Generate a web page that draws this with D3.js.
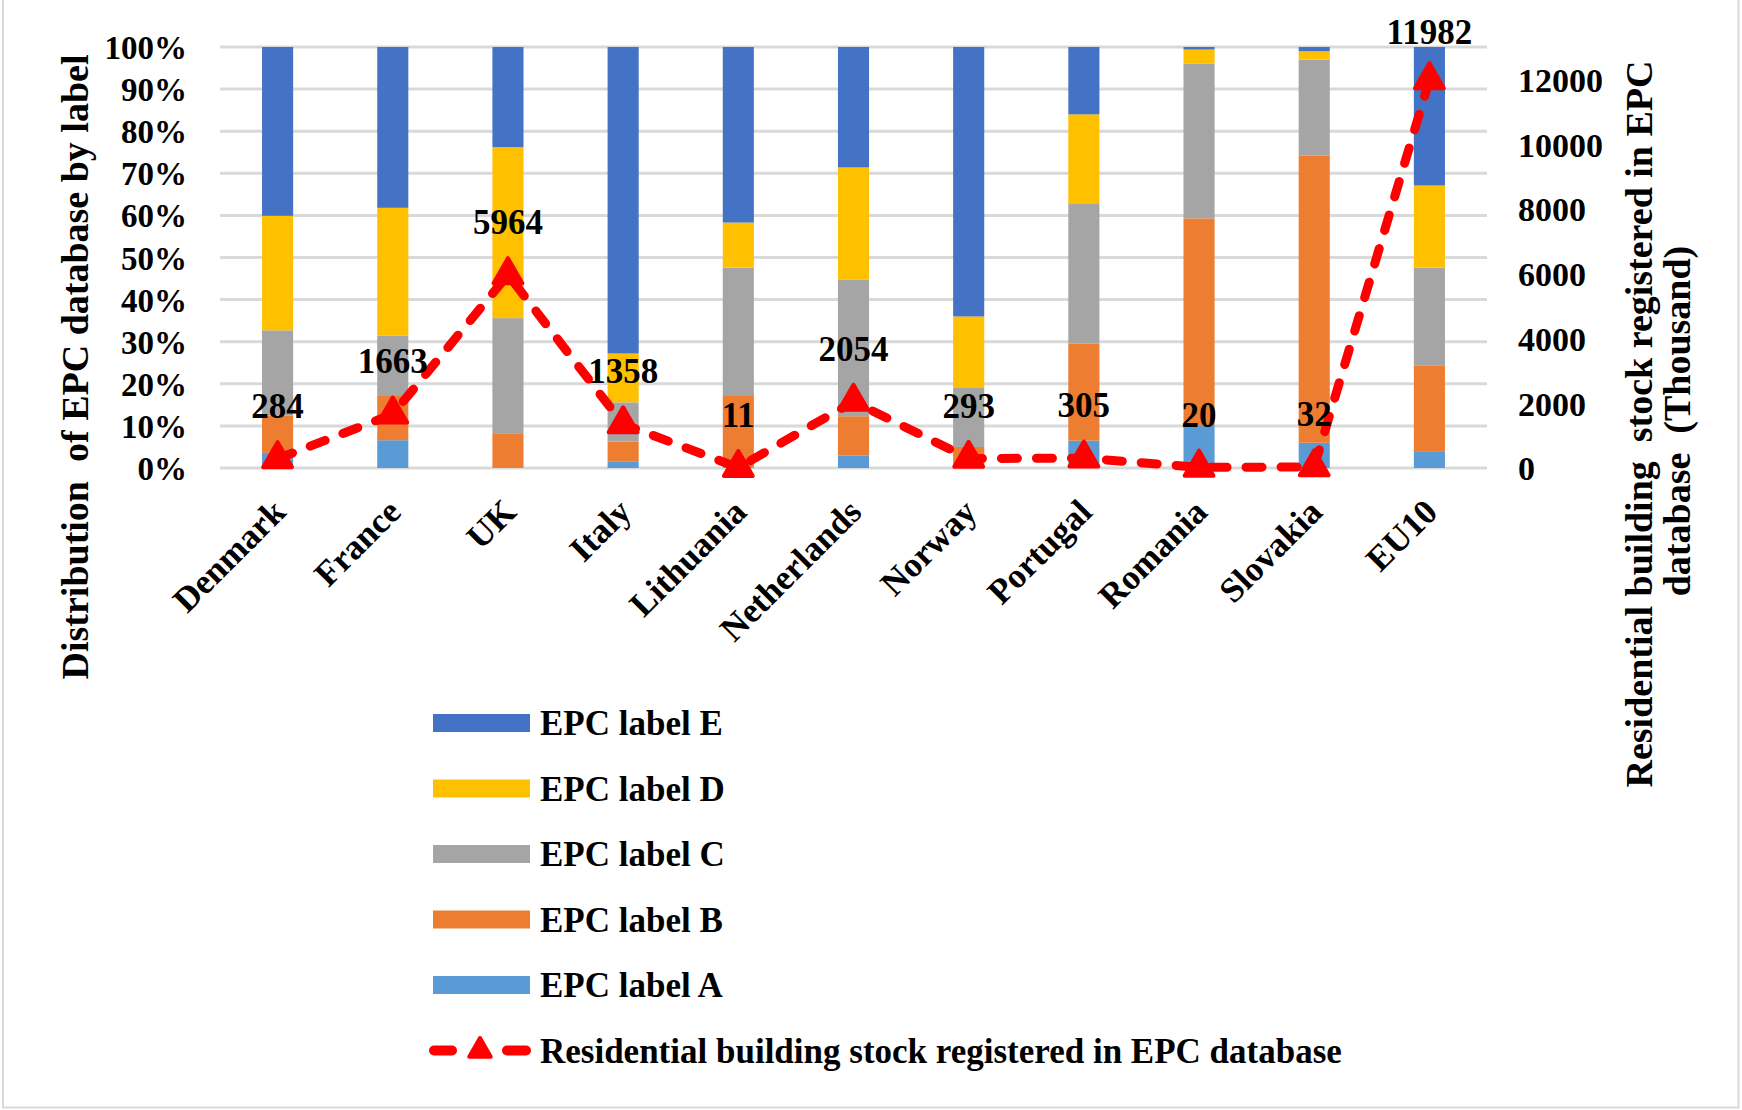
<!DOCTYPE html>
<html>
<head>
<meta charset="utf-8">
<script src="https://cdn.jsdelivr.net/npm/d3@7"></script>
<style>
  html, body { margin: 0; padding: 0; background: #ffffff; }
  svg { display: block; }
  text { font-family: "Liberation Serif", "Times New Roman", serif; font-weight: bold; fill: #000; }
</style>
</head>
<body>
<svg id="chart" width="1742" height="1110"></svg>
<script>
// Countries shown on the x axis
const categories = ["Denmark", "France", "UK", "Italy", "Lithuania", "Netherlands",
                    "Norway", "Portugal", "Romania", "Slovakia", "EU10"];

// Share of EPC certificates per label (percent of each country's database)
const labelA = [3.6, 6.6, 0.0, 1.6, 0.0, 3.0, 0.5, 6.5, 10.2, 6.0, 4.0];
const labelB = [8.8, 10.7, 8.1, 4.7, 17.1, 9.3, 4.5, 23.1, 49.1, 68.2, 20.4];
const labelC = [20.3, 14.1, 27.5, 9.3, 30.5, 32.4, 14.0, 33.1, 36.7, 22.8, 23.2];
const labelD = [27.2, 30.4, 40.6, 11.6, 10.7, 26.7, 17.0, 21.3, 3.4, 2.0, 19.5];
const labelE = [40.1, 38.2, 23.8, 72.8, 41.7, 28.6, 64.0, 16.0, 0.6, 1.0, 32.9];

// Residential buildings registered in the EPC database (thousand)
const stock = [284, 1663, 5964, 1358, 11, 2054, 293, 305, 20, 32, 11982];

// Axis ticks
const percentTicks = [0, 10, 20, 30, 40, 50, 60, 70, 80, 90, 100];
const stockTicks = [0, 2000, 4000, 6000, 8000, 10000, 12000];

const seriesKeys = ["A", "B", "C", "D", "E"];
const seriesNames = {
  A: "EPC label A", B: "EPC label B", C: "EPC label C", D: "EPC label D", E: "EPC label E"
};
const colors = { A: "#5B9BD5", B: "#ED7D31", C: "#A5A5A5", D: "#FFC000", E: "#4472C4" };
const lineColor = "#FF0000";

const rows = categories.map((c, i) => ({
  country: c, A: labelA[i], B: labelB[i], C: labelC[i], D: labelD[i], E: labelE[i], stock: stock[i]
}));

const svg = d3.select("#chart");
const plot = { left: 220, right: 1487, top: 47, bottom: 468 };

const x = d3.scaleBand()
  .domain(categories)
  .range([plot.left, plot.right])
  .paddingInner(0.73)
  .paddingOuter(0.365);

const yPct = d3.scaleLinear().domain([0, 100]).range([plot.bottom, plot.top]);
const yStock = d3.scaleLinear().domain([0, 13000]).range([plot.bottom, plot.top]);

// Frame around the figure
svg.append("path")
  .attr("d", "M3,-5 V1107.5 H1738.5 V-5")
  .attr("fill", "none")
  .attr("stroke", "#d9d9d9")
  .attr("stroke-width", 2);

// Horizontal gridlines
svg.append("g")
  .selectAll("line")
  .data(percentTicks)
  .join("line")
  .attr("x1", plot.left)
  .attr("x2", plot.right)
  .attr("y1", d => yPct(d))
  .attr("y2", d => yPct(d))
  .attr("stroke", "#d9d9d9")
  .attr("stroke-width", 3);

// Stacked bars
const stacked = d3.stack().keys(seriesKeys)(rows);
svg.append("g")
  .selectAll("g")
  .data(stacked)
  .join("g")
  .attr("fill", s => colors[s.key])
  .selectAll("rect")
  .data(s => s)
  .join("rect")
  .attr("x", d => x(d.data.country))
  .attr("width", x.bandwidth())
  .attr("y", d => yPct(d[1]))
  .attr("height", d => yPct(d[0]) - yPct(d[1]));

// Left axis (percent)
const leftAxis = d3.axisLeft(yPct)
  .tickValues(percentTicks)
  .tickFormat(d => d + "%")
  .tickSize(0)
  .tickPadding(0);
const gl = svg.append("g").attr("transform", `translate(187,0)`).call(leftAxis);
gl.select(".domain").remove();
gl.selectAll("text").style("font-size", "33px").attr("dy", "0.35em")
  .style("font-family", "'Liberation Serif', serif").style("font-weight", "bold");

// Right axis (thousand buildings)
const rightAxis = d3.axisRight(yStock)
  .tickValues(stockTicks)
  .tickFormat(d3.format("d"))
  .tickSize(0)
  .tickPadding(0);
const gr = svg.append("g").attr("transform", `translate(1518,0)`).call(rightAxis);
gr.select(".domain").remove();
gr.selectAll("text").style("font-size", "34px").attr("dy", "0.35em")
  .style("font-family", "'Liberation Serif', serif").style("font-weight", "bold");

// Category labels, rotated
const xAxis = d3.axisBottom(x).tickSize(0).tickPadding(0);
const gx = svg.append("g").attr("transform", `translate(0,${plot.bottom})`).call(xAxis);
gx.select(".domain").remove();
gx.selectAll("text")
  .style("font-size", "35px")
  .style("font-family", "'Liberation Serif', serif").style("font-weight", "bold")
  .attr("text-anchor", "end")
  .attr("dy", null)
  .attr("y", null)
  .attr("transform", "translate(10,46) rotate(-45)");

// Stock line (dashed) with triangle markers
const lineGen = d3.line()
  .x(d => x(d.country) + x.bandwidth() / 2)
  .y(d => yStock(d.stock));
svg.append("path")
  .datum(rows)
  .attr("d", lineGen)
  .attr("fill", "none")
  .attr("stroke", lineColor)
  .attr("stroke-width", 9)
  .attr("stroke-linecap", "round")
  .attr("stroke-linejoin", "round")
  .attr("stroke-dasharray", "16 19");

const tri = d3.symbol().type(d3.symbolTriangle).size(360);
svg.append("g")
  .selectAll("path")
  .data(rows)
  .join("path")
  .attr("d", tri)
  .attr("transform", d => `translate(${x(d.country) + x.bandwidth() / 2},${yStock(d.stock)})`)
  .attr("fill", lineColor)
  .attr("stroke", lineColor)
  .attr("stroke-width", 4)
  .attr("stroke-linejoin", "round");

// Value labels above the markers
svg.append("g")
  .selectAll("text")
  .data(rows)
  .join("text")
  .attr("x", d => x(d.country) + x.bandwidth() / 2)
  .attr("y", d => Math.max(32, yStock(d.stock) - 53))
  .attr("dy", "0.35em")
  .attr("text-anchor", "middle")
  .style("font-size", "35px")
  .text(d => d.stock);

// Axis titles
svg.append("text")
  .attr("transform", "translate(88,367) rotate(-90)")
  .attr("text-anchor", "middle")
  .style("font-size", "38px")
  .style("white-space", "pre")
  .text("Distribution  of EPC database by label");

svg.append("text")
  .attr("transform", "translate(1652,424) rotate(-90)")
  .attr("text-anchor", "middle")
  .style("font-size", "38px")
  .style("white-space", "pre")
  .text("Residential building  stock registered in EPC");

svg.append("text")
  .attr("transform", "translate(1690,421) rotate(-90)")
  .attr("text-anchor", "middle")
  .style("font-size", "38px")
  .style("white-space", "pre")
  .text("database  (Thousand)");

// Legend
const legendKeys = ["E", "D", "C", "B", "A"];
const legendTop = 723, legendStep = 65.5;
const legend = svg.append("g");
legendKeys.forEach((k, i) => {
  const cy = legendTop + i * legendStep;
  legend.append("rect")
    .attr("x", 433).attr("y", cy - 9)
    .attr("width", 97).attr("height", 18)
    .attr("fill", colors[k]);
  legend.append("text")
    .attr("x", 540).attr("y", cy).attr("dy", "0.35em")
    .style("font-size", "35px")
    .text(seriesNames[k]);
});
const ly = legendTop + 5 * legendStep;
legend.append("line")
  .attr("x1", 434).attr("x2", 452).attr("y1", ly).attr("y2", ly)
  .attr("stroke", lineColor).attr("stroke-width", 10).attr("stroke-linecap", "round");
legend.append("line")
  .attr("x1", 507).attr("x2", 526).attr("y1", ly).attr("y2", ly)
  .attr("stroke", lineColor).attr("stroke-width", 10).attr("stroke-linecap", "round");
legend.append("path")
  .attr("d", d3.symbol().type(d3.symbolTriangle).size(200)())
  .attr("transform", `translate(480,${ly})`)
  .attr("fill", lineColor)
  .attr("stroke", lineColor)
  .attr("stroke-width", 4)
  .attr("stroke-linejoin", "round");
legend.append("text")
  .attr("x", 540).attr("y", ly).attr("dy", "0.35em")
  .style("font-size", "35px")
  .text("Residential building stock registered in EPC database");
</script>
</body>
</html>
